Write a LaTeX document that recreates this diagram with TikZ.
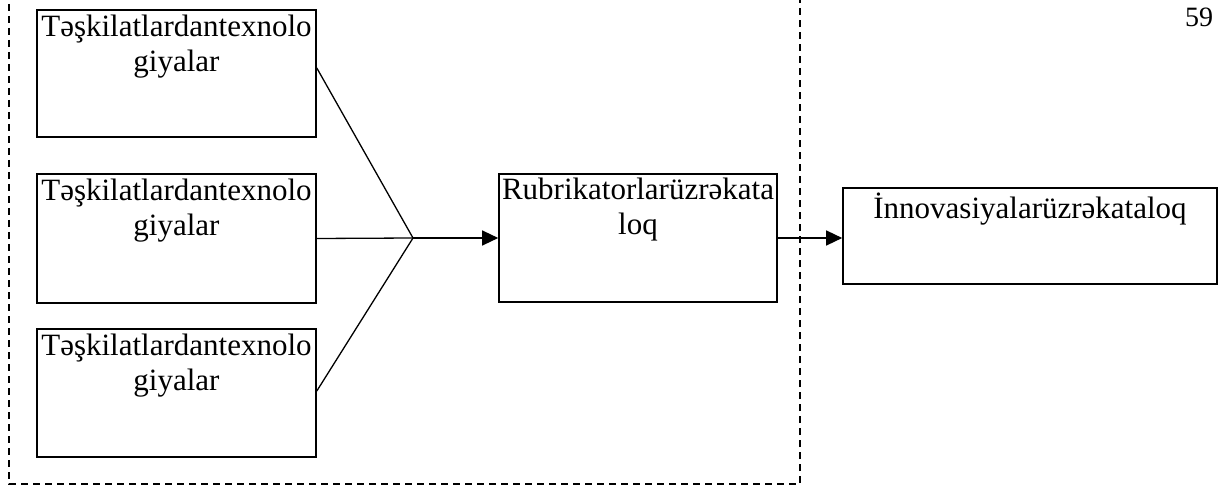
\documentclass[tikz,border=0pt]{standalone}
\usepackage{fontspec}
\setmainfont{Liberation Serif}
\usetikzlibrary{arrows.meta,calc}
\begin{document}
\begin{tikzpicture}[x=1pt,y=-1pt,
  box/.style={draw,line width=1.6pt,inner sep=0pt},
  boxtext/.style={anchor=north,inner sep=0pt,align=center,font=\fontsize{31}{35}\selectfont},
  conn/.style={line width=1.3pt},
  arr/.style={line width=1.3pt,-{Triangle[length=16pt,width=15pt]}},
  frame/.style={line width=1.7pt,dash pattern=on 7pt off 5pt}]
\useasboundingbox (0,0) rectangle (1220,486);
% dashed frame
\draw[frame] (9,-20) -- (9,484) -- (800,484) -- (800,-20);
% boxes
\node[box,minimum width=279pt,minimum height=127pt] (t1) at (176.5,73.5) {};
\node[box,minimum width=279pt,minimum height=129pt] (t2) at (176.5,238.5) {};
\node[box,minimum width=279pt,minimum height=128pt] (t3) at (176.5,393) {};
\node[box,minimum width=278pt,minimum height=128pt] (m) at (638,238) {};
\node[box,minimum width=374pt,minimum height=96pt] (r) at (1030,236) {};
% texts
\node[boxtext] (t1txt) at ([yshift=-6pt]t1.north) {Təşkilatlardantexnolo\\giyalar};
\node[boxtext] (t2txt) at ([yshift=-6pt]t2.north) {Təşkilatlardantexnolo\\giyalar};
\node[boxtext] (t3txt) at ([yshift=-6pt]t3.north) {Təşkilatlardantexnolo\\giyalar};
\node[boxtext] (mtxt) at ([yshift=-5pt]m.north) {Rubrikatorlarüzrəkata\\loq};
\node[boxtext] (rtxt) at ([yshift=-6pt]r.north) {İnnovasiyalarüzrəkataloq};
\node[anchor=base west,inner sep=0pt,font=\fontsize{28}{32}\selectfont] (pg) at (1185,27) {59};
% connectors
\coordinate (j) at (413,238);
\draw[conn] ([yshift=5.5pt]t1.east) -- (j);
\draw[conn] (t2.east) -- (j);
\draw[conn] ([yshift=2pt]t3.east) -- (j);
\draw[arr] (j) -- (m.west);
\draw[arr] (m.east) -- (r.west |- m.east);
\end{tikzpicture}
\end{document}
